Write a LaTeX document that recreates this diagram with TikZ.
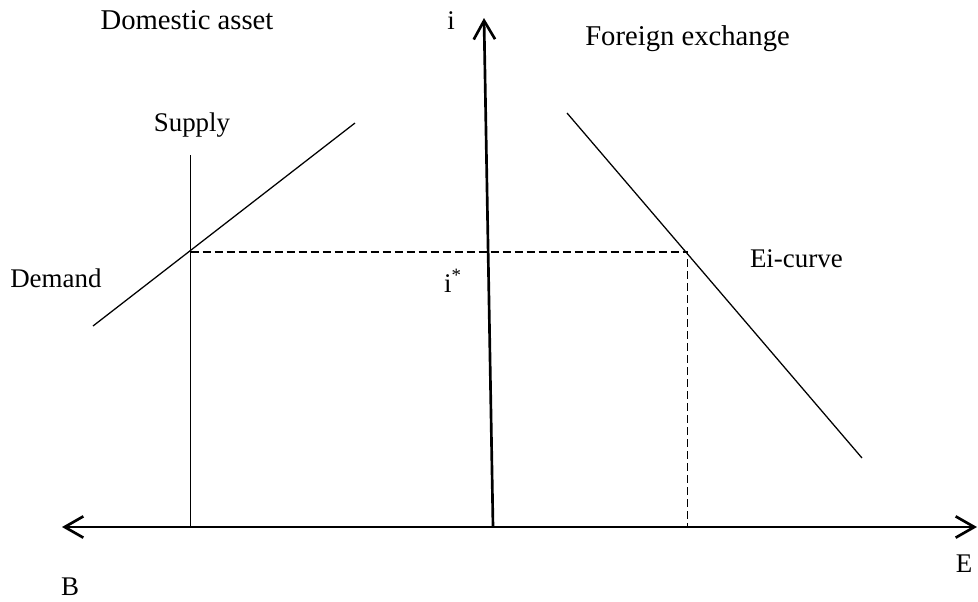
\documentclass[tikz,border=0pt]{standalone}
\usepackage{fontspec}
\setmainfont{Liberation Serif}
\usetikzlibrary{arrows.meta}
\begin{document}
\begin{tikzpicture}[x=0.75pt,y=-0.75pt,
  lbl/.style={font=\fontsize{20.2}{24}\selectfont, inner sep=0pt, anchor=base},
  ttl/.style={font=\fontsize{21.5}{25}\selectfont, inner sep=0pt, anchor=base},
  axis/.style={line width=2pt, -{Straight Barb[length=14pt,width=16pt,line width=2pt]}},
  curve/.style={line width=0.95pt},
  guide/.style={line width=0.95pt, dash pattern=on 6pt off 3pt}]
\useasboundingbox (0,0) rectangle (978,601);
% coordinates
\coordinate (O) at (493,527);
\coordinate (itop) at (484,18);
\coordinate (Eleft) at (62,527);
\coordinate (Eright) at (977,527);
\coordinate (Stop) at (190.7,155);
\coordinate (Sbot) at (190.7,527);
\coordinate (Dlo) at (93,326);
\coordinate (Dhi) at (355,123);
\coordinate (eq) at (190.7,252);
\coordinate (fx) at (687.7,252);
\coordinate (fxbot) at (687.7,527);
\coordinate (EIhi) at (567,113);
\coordinate (EIlo) at (862,458);
% axes
\draw[axis] (O) -- (Eleft);
\draw[axis] (O) -- (Eright);
\draw[axis] (O) -- (itop);
% curves
\draw[curve] (Sbot) -- (Stop);
\draw[curve] (Dlo) -- (Dhi);
\draw[curve] (EIhi) -- (EIlo);
% guides
\draw[guide] (eq) -- (fx) -- (fxbot);
% labels
\node[ttl] (tdom) at (187,29) {Domestic asset};
\node[lbl] (ti) at (451,29) {i};
\node[ttl, anchor=base west] (tfx) at (585,45) {Foreign exchange};
\node[lbl] (tsup) at (192,131) {Supply};
\node[lbl, anchor=base west] (tdem) at (10,287) {Demand};
\node[lbl] (tistar) at (453,292) {i\textsuperscript{*}};
\node[lbl, anchor=base east] (tei) at (843,267) {Ei-curve};
\node[lbl] (tE) at (964,572) {E};
\node[lbl] (tB) at (70,595) {B};
\end{tikzpicture}
\end{document}
